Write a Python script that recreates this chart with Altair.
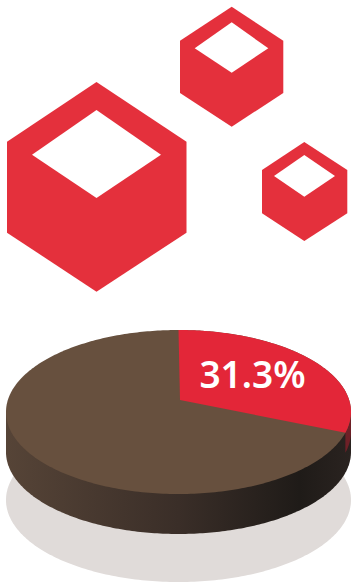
import numpy as np
import altair as alt

# Cube icons: shoulder-to-shoulder hexagons with a diamond opening, in canvas units.
CUBE_X = [[7, 96.5, 186.5], [180, 231.7, 283.3], [262, 304.3, 347.3]]
CUBE_Y = [[82, 141.7, 232.7, 291.7], [6.7, 40.7, 93, 126.7], [142, 170, 213.3, 241]]
HOLE_X = [[32, 96.5, 161], [194.7, 231.7, 268.3], [274, 304.3, 335]]
HOLE_Y = [[110, 154.7, 198], [22.3, 48.3, 72.7], [155, 176, 196.7]]

# Pie shares, in percent, starting from twelve o'clock.
SHARE_LABELLED = 31.3
SHARE_REST = 100 - SHARE_LABELLED

RED = "#e4303c"
WEDGE_RED = "#e32638"
BROWN = "#67503e"
SHADOW = "#e0dbd9"
WALL_STOPS = [(0.0, "#564437"), (0.5, "#3a2e28"), (0.85, "#1f1b18"), (1.0, "#2a2320")]

# Disc geometry: centre, half-axes and the foreshortening of the far side.
APEX_X, APEX_Y = 180, 400
FAR, NEAR = 70, 94
TILT = (NEAR - FAR) / (NEAR + FAR)
DEPTH = FAR * (1 + TILT)
HALF_WIDTH = 172.5 * np.sqrt(1 - TILT ** 2)
WALL_HEIGHT = 40
WIDEST = np.degrees(np.arccos(-TILT))


def rim(start, stop, n=180, drop=0):
    """Points on the disc edge between two clockwise angles, in degrees."""
    a = np.radians(np.linspace(start, stop, n))
    w = 1 + TILT * np.cos(a)
    x = APEX_X - 1.5 + HALF_WIDTH * np.sin(a) / w
    y = APEX_Y - DEPTH * np.cos(a) / w + drop
    return list(zip(x.tolist(), y.tolist()))


def polygon(points):
    ring = [list(p) for p in points]
    ring.append(ring[0])
    return {"type": "Feature", "properties": {},
            "geometry": {"type": "Polygon", "coordinates": [ring]}}


def hexagon(xs, ys):
    return polygon([(xs[1], ys[0]), (xs[2], ys[1]), (xs[2], ys[2]),
                    (xs[1], ys[3]), (xs[0], ys[2]), (xs[0], ys[1])])


def diamond(xs, ys):
    return polygon([(xs[1], ys[0]), (xs[2], ys[1]), (xs[1], ys[2]), (xs[0], ys[1])])


canvas = dict(type="identity", scale=1, translate=[0, 0])


def shape(features, **style):
    return alt.Chart(alt.Data(values=features)).mark_geoshape(**style).project(**canvas)


wedge_end = 360 * SHARE_LABELLED / 100
full_rim = rim(0, 360, 360)

# Wall: the lowered near half of the rim, closed through the disc centre so that
# it runs underneath the top face and leaves no seam along the edge.
wall_top = rim(WIDEST, 360 - WIDEST, 200)
wall_low = rim(WIDEST, 360 - WIDEST, 200, drop=WALL_HEIGHT)
wall = polygon(wall_low + [wall_top[-1], (APEX_X, APEX_Y), wall_top[0]])

# The labelled slice shows a thin strip of its own wall at the right-hand edge.
strip_top = rim(WIDEST, wedge_end, 30)
strip_low = rim(WIDEST, wedge_end, 30, drop=WALL_HEIGHT * 0.5)
strip = polygon(strip_top + strip_low[::-1])

cubes = [hexagon(x, y) for x, y in zip(CUBE_X, CUBE_Y)]
holes = [diamond(x, y) for x, y in zip(HOLE_X, HOLE_Y)]

wall_fill = alt.Gradient(
    gradient="linear", x1=0, x2=1, y1=0, y2=0,
    stops=[alt.GradientStop(offset=o, color=c) for o, c in WALL_STOPS],
)

label = alt.Chart(alt.Data(values=[
    {"text": f"{SHARE_LABELLED:.1f}%", "lon": 252.5, "lat": 388}
])).mark_text(
    font="Noto Sans", fontSize=37, fontWeight=600, color="white",
    align="center", baseline="alphabetic",
).encode(longitude="lon:Q", latitude="lat:Q", text="text:N").project(**canvas)

chart = alt.layer(
    shape(cubes, fill=RED),
    shape(holes, fill="white"),
    shape([polygon(rim(0, 360, 360, drop=88))], fill=SHADOW),
    shape([wall], fill=wall_fill),
    shape([strip], fill="#6e2027"),
    shape([polygon(full_rim)], fill=BROWN),
    shape([polygon([(APEX_X, APEX_Y)] + rim(0, wedge_end))], fill=WEDGE_RED),
    label,
).properties(
    width=351, height=582, padding=0, background="white",
    autosize=alt.AutoSizeParams(type="none"),
).configure_view(stroke=None)

chart.save("out.html", embed_options={"renderer": "svg", "actions": False})
